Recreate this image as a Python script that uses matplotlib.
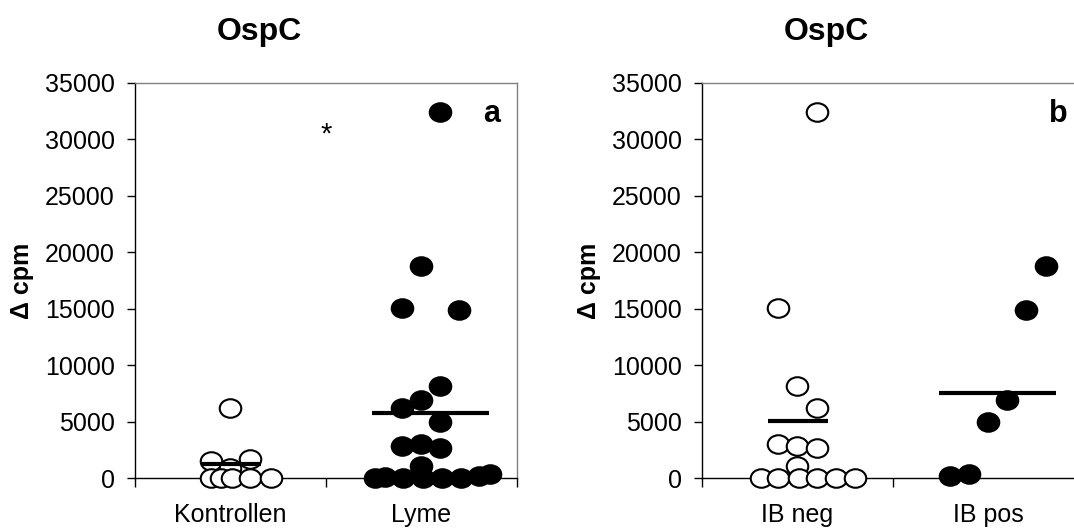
import matplotlib
matplotlib.use("Agg")
from matplotlib import pyplot as plt
from matplotlib.path import Path
from matplotlib.transforms import Affine2D
import numpy as np

plt.rcParams['font.family'] = ['Liberation Sans', 'DejaVu Sans']

# values (delta cpm)
kontrollen = [6230, 1530, 910, 1650, 0, 0, 0, 0, 0]
lyme = [32390, 18780, 15030, 14880, 8150, 6910, 6230, 4930, 2860, 3010, 2680, 1090,
        0, 120, 0, 0, 0, 0, 150, 350]
ib_neg = [32390, 15030, 8150, 6230, 3010, 2860, 2680, 1090, 0, 0, 0, 0, 0, 0]
ib_pos = [18780, 14880, 6910, 4930, 200, 330]

means_a = [1210, 5780]
means_b = [5050, 7560]

labels_a = ['Kontrollen', 'Lyme']
labels_b = ['IB neg', 'IB pos']
yticks = [0, 5000, 10000, 15000, 20000, 25000, 30000, 35000]

# horizontal scatter of the dots around each category
kontrollen_dx = [0, -0.1, 0, 0.1, -0.1, -0.05, 0.01, 0.1, 0.21]
lyme_dx = [0.1, 0, -0.1, 0.2, 0.1, 0, -0.1, 0.1, -0.1, 0, 0.1, 0,
           -0.245, -0.19, -0.095, 0.01, 0.11, 0.21, 0.3, 0.36]
ib_neg_dx = [0.1, -0.1, 0, 0.1, -0.1, 0, 0.1, 0, -0.19, -0.1, 0.01, 0.1, 0.2, 0.3]
ib_pos_dx = [0.3, 0.2, 0.1, 0, -0.2, -0.1]
mean_span = [(-0.155, 0.16), (-0.257, 0.357)]

# slightly squashed circle, as in the original
ell = Path.unit_circle().transformed(Affine2D().scale(1, 0.86))

fig = plt.figure(figsize=(10.74, 5.28), dpi=100)
ax1 = fig.add_axes([135 / 1074, 50 / 528, 381.7 / 1074, 395 / 528])
ax2 = fig.add_axes([702 / 1074, 50 / 528, 381.7 / 1074, 395 / 528])


def dots(ax, pos, vals, dx, filled):
    x = pos + np.array(dx)
    ax.plot(x, vals, linestyle='none', marker=ell, ms=15.5,
            mfc='black' if filled else 'white', mec='black', mew=1.5,
            clip_on=False, zorder=3)


def style(ax, labels, letter):
    ax.set_xlim(0.5, 2.5)
    ax.set_ylim(0, 35000)
    ax.set_yticks(yticks)
    ax.set_yticklabels([str(t) for t in yticks])
    ax.tick_params(axis='y', direction='out', length=6, width=1, pad=8.5, labelsize=18)
    ax.set_xticks([0.5, 1.5, 2.5])
    ax.set_xticklabels([])
    ax.tick_params(axis='x', which='major', direction='out', length=6.5, width=1)
    ax.set_xticks([1, 2], minor=True)
    ax.set_xticklabels(labels, minor=True)
    ax.tick_params(axis='x', which='minor', length=0, pad=18, labelsize=18)
    for t in ax.xaxis.get_major_ticks()[1:]:
        t.tick1line.set_color('#808080')
    ax.spines['left'].set_color('black')
    ax.spines['bottom'].set_color('black')
    ax.spines['top'].set_color('#808080')
    ax.spines['right'].set_color('#808080')
    for s in ax.spines.values():
        s.set_linewidth(1)
    ax.text(2.367, 31500, letter, fontsize=22, fontweight='bold', ha='center', va='baseline')
    ax.text(-0.297, 0.5, '\u0394 cpm', transform=ax.transAxes, rotation=90,
            fontsize=18, fontweight='bold', ha='center', va='center')
    ax.text(0.327, 1 + 43 / 395, 'OspC', transform=ax.transAxes,
            fontsize=23, fontweight='bold', ha='center', va='baseline')


def means(ax, vals):
    for i, m in enumerate(vals):
        lo, hi = mean_span[i]
        ax.plot([i + 1 + lo, i + 1 + hi], [m, m], color='black', lw=3,
                solid_capstyle='butt', zorder=4)


dots(ax1, 1, kontrollen, kontrollen_dx, False)
dots(ax1, 2, lyme, lyme_dx, True)
means(ax1, means_a)
ax1.text(1.5, 29700, '*', fontsize=21, ha='center', va='baseline')
style(ax1, labels_a, 'a')

dots(ax2, 1, ib_neg, ib_neg_dx, False)
dots(ax2, 2, ib_pos, ib_pos_dx, True)
means(ax2, means_b)
style(ax2, labels_b, 'b')

fig.savefig('out.png', dpi=100)
